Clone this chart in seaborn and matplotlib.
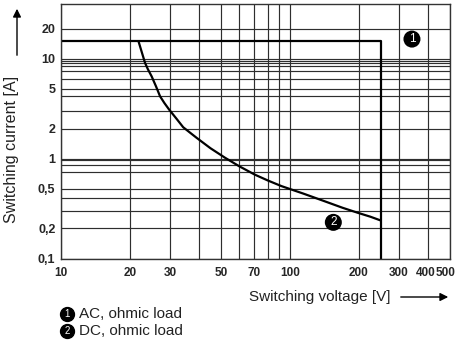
# ---------------------------------------------------
# Switching capacity chart (load limit curve)
# ---------------------------------------------------

import pandas as pd
import matplotlib
matplotlib.use("Agg")
import matplotlib.pyplot as plt
import matplotlib.transforms as mtransforms
import seaborn as sns

# -----------------------------
# Data
# -----------------------------
ac_voltage = [10, 250, 250]
ac_current = [15, 15, 0.1]

dc_voltage = [21.8, 22.5, 23.3, 24.0, 24.9, 26.0, 27.1, 28.3, 29.7, 32.0, 34.2,
              36.5, 39.2, 45, 52.1, 60, 70.4, 80, 92, 115, 142, 170, 199, 225, 250]
dc_current = [15, 11.8, 9.06, 7.8, 6.65, 5.3, 4.2, 3.6, 3.09, 2.5, 2.06,
              1.83, 1.61, 1.27, 1.02, 0.84, 0.69, 0.605, 0.53, 0.445, 0.374,
              0.322, 0.286, 0.262, 0.24]

x_ticks = [10, 20, 30, 50, 70, 100, 200, 300, 400, 500]
x_tick_labels = ["10", "20", "30", "50", "70", "100", "200", "300", "400", "500"]
x_minor = [40, 60, 80, 90]

y_ticks = [0.1, 0.2, 0.5, 1, 2, 5, 10, 20]
y_tick_labels = ["0,1", "0,2", "0,5", "1", "2", "5", "10", "20"]
y_minor = [0.3, 0.4, 0.74, 0.86, 0.96, 3.0, 4.2, 6.3, 7.5, 8.5, 9.0, 9.5]

curve_marks = ["1", "2"]
mark_voltage = [342, 155]
mark_current = [15.7, 0.23]
legend_labels = ["AC, ohmic load", "DC, ohmic load"]

df_ac = pd.DataFrame({"voltage": ac_voltage, "current": ac_current})
df_dc = pd.DataFrame({"voltage": dc_voltage, "current": dc_current})

# -----------------------------
# Figure
# -----------------------------
sns.set_style("white")
plt.rcParams["font.family"] = ["Liberation Sans", "DejaVu Sans"]

W, H = 458, 341
fig = plt.figure(figsize=(W / 100, H / 100), dpi=100)
ax = fig.add_axes([61 / W, 1 - 258.5 / H, 388.7 / W, 254.2 / H])

ax.set_xscale("log")
ax.set_yscale("log")
ax.set_xlim(10, 500)
ax.set_ylim(0.1, 35)

ax.set_xticks(x_ticks)
ax.set_xticklabels(x_tick_labels, fontweight="bold", fontsize=8.5)
ax.set_xticks(x_minor, minor=True)
ax.set_yticks(y_ticks)
ax.set_yticklabels(y_tick_labels, fontweight="bold", fontsize=9)
ax.set_yticks(y_minor, minor=True)
ax.xaxis.set_minor_formatter(matplotlib.ticker.NullFormatter())
ax.yaxis.set_minor_formatter(matplotlib.ticker.NullFormatter())
ax.tick_params(which="both", length=0)
ax.tick_params(axis="x", pad=6)
ax.tick_params(axis="y", pad=4)

# the last x labels sit against the right edge, nudge them in a bit
for lbl, dx in zip(ax.get_xticklabels()[-2:], [-1.5, -4.5]):
    lbl.set_transform(lbl.get_transform()
                      + mtransforms.ScaledTranslation(dx / 100, 0, fig.dpi_scale_trans))

ax.grid(which="both", color="#2e2e2e", linewidth=0.85)
for sp in ax.spines.values():
    sp.set_color("#333333")
    sp.set_linewidth(1.0)

# curves
sns.lineplot(data=df_ac, x="voltage", y="current", sort=False, estimator=None,
             color="black", linewidth=1.6, ax=ax)
sns.lineplot(data=df_dc, x="voltage", y="current", sort=False, estimator=None,
             color="black", linewidth=1.6, ax=ax)
ax.set_xlabel("")
ax.set_ylabel("")

# numbered markers on the curves
sns.scatterplot(x=mark_voltage, y=mark_current, s=150, color="black",
                edgecolor="none", ax=ax, zorder=5)
for lab, vx, vy in zip(curve_marks, mark_voltage, mark_current):
    ax.text(vx, vy, lab, color="white", fontsize=8.5, ha="center", va="center",
            zorder=6)

# -----------------------------
# Overlay for labels, arrows and legend (pixel coords)
# -----------------------------
ov = fig.add_axes([0, 0, 1, 1], facecolor="none")
ov.set_xlim(0, W)
ov.set_ylim(H, 0)
ov.axis("off")

ov.text(319.5, 297, "Switching voltage [V]", fontsize=11, ha="center",
        va="center", color="#222222")
ov.annotate("", xy=(451, 297), xytext=(398, 297),
            arrowprops=dict(arrowstyle="-|>", color="black", lw=1.0,
                            mutation_scale=12))

ov.text(12, 149, "Switching current [A]", fontsize=11.5, ha="center",
        va="center", rotation=90, color="#222222")
ov.annotate("", xy=(17, 6), xytext=(17, 58),
            arrowprops=dict(arrowstyle="-|>", color="black", lw=1.0,
                            mutation_scale=12))

legend_y = [314, 331]
ov.scatter([67, 67], legend_y, s=100, color="black", zorder=5)
for lab, text, ly in zip(curve_marks, legend_labels, legend_y):
    ov.text(67, ly, lab, color="white", fontsize=7, ha="center", va="center",
            zorder=6)
    ov.text(79, ly, text, fontsize=11, ha="left", va="center", color="#222222")

fig.savefig("out.png", dpi=100)
plt.close(fig)
